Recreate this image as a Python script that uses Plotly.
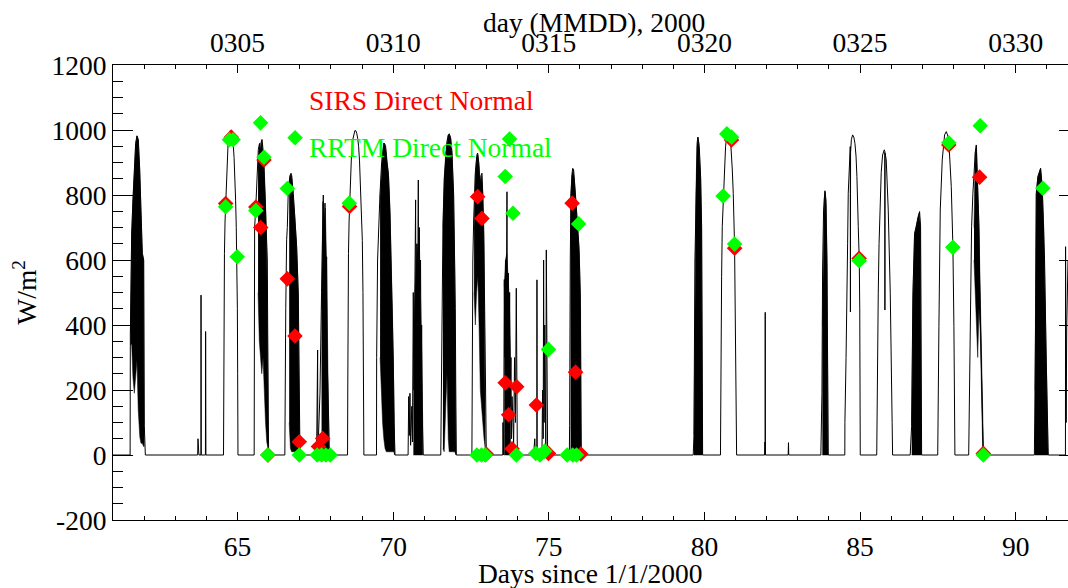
import plotly.graph_objects as go

# ---------------- observed direct normal irradiance (black line), day-by-day segments -------------
seg61_t = [61.0, 61.55, 61.557, 61.60, 61.642, 61.685, 61.728, 61.771, 61.814, 61.857, 61.899, 61.942, 61.985, 62.006, 62.039]
seg61_v = [0, 0, 370, 680, 785, 877, 959, 982, 970, 877, 723, 621, 600, 90, 0]
seg63_t = [63.72, 63.73, 63.74, 63.75, 63.76, 63.825, 63.828, 63.835, 63.97, 63.975, 63.98, 63.985]
seg63_v = [0, 50, 5, 30, 0, 0, 492, 0, 0, 380, 340, 0]
seg64_t = [64.55, 64.557, 64.565, 64.58, 64.60, 64.62, 64.645, 64.67, 64.70, 64.735, 64.77, 64.80, 64.83, 64.86, 64.89, 64.915, 64.94, 64.96, 64.98, 64.995, 65.005, 65.015]
seg64_v = [0, 200, 450, 620, 720, 770, 860, 920, 965, 988, 998, 995, 982, 960, 915, 860, 782, 700, 610, 450, 250, 0]
seg65_t = [65.535, 65.54, 65.55, 65.583, 65.636, 65.668, 65.711, 65.74, 65.754, 65.786, 65.81, 65.839, 65.882, 65.925, 65.957, 65.975, 65.99, 66.0]
seg65_v = [0, 400, 700, 754, 908, 940, 959, 900, 960, 971, 950, 908, 805, 640, 600, 300, 30, 0]
seg66_t = [66.52, 66.525, 66.55, 66.578, 66.60, 66.632, 66.685, 66.72, 66.739, 66.792, 66.846, 66.90, 66.953, 66.98, 67.007]
seg66_v = [0, 200, 450, 662, 700, 816, 860, 867, 860, 805, 734, 641, 498, 190, 0]
seg67_t = [67.54, 67.574, 67.58, 67.617, 67.649, 67.70, 67.756, 67.77, 67.79, 67.81, 67.83, 67.863, 67.88, 67.917, 67.935, 67.95]
seg67_v = [0, 323, 0, 100, 190, 500, 800, 400, 700, 775, 500, 610, 300, 190, 80, 0]
seg68_t = [68.535, 68.542, 68.55, 68.565, 68.585, 68.60, 68.63, 68.66, 68.69, 68.73, 68.77, 68.80, 68.83, 68.86, 68.89, 68.92, 68.95, 68.98, 69.01, 69.03, 69.045, 69.06]
seg68_v = [0, 200, 450, 620, 720, 770, 860, 920, 965, 988, 998, 998, 990, 975, 950, 905, 840, 760, 660, 500, 250, 0]
seg69_t = [69.465, 69.47, 69.50, 69.533, 69.576, 69.63, 69.705, 69.735, 69.758, 69.80, 69.844, 69.897, 69.951, 70.004, 70.03, 70.058]
seg69_v = [0, 300, 600, 700, 800, 900, 960, 955, 950, 900, 870, 747, 548, 292, 100, 0]
seg70_t = [70.48, 70.50, 70.52, 70.54, 70.56, 70.60, 70.62, 70.647, 70.67, 70.70, 70.722, 70.735, 70.76, 70.785, 70.808, 70.82, 70.84, 70.861, 70.88, 70.90, 70.915, 70.94, 70.968]
seg70_v = [0, 180, 60, 190, 30, 150, 40, 500, 200, 600, 785, 300, 650, 400, 846, 350, 700, 500, 600, 200, 400, 100, 0]
seg71_t = [71.53, 71.537, 71.56, 71.60, 71.644, 71.687, 71.729, 71.772, 71.804, 71.847, 71.89, 71.944, 71.997, 72.015, 72.029]
seg71_v = [0, 100, 400, 703, 850, 930, 965, 985, 988, 975, 930, 800, 450, 150, 0]
seg72_t = [72.53, 72.535, 72.56, 72.586, 72.64, 72.693, 72.714, 72.75, 72.79, 72.821, 72.854, 72.88, 72.907, 72.94, 72.96, 72.98, 72.993]
seg72_v = [0, 300, 600, 720, 870, 925, 929, 900, 820, 860, 867, 800, 700, 450, 200, 50, 0]
seg73_t = [73.52, 73.528, 73.55, 73.571, 73.59, 73.614, 73.63, 73.657, 73.67, 73.699, 73.72, 73.742, 73.76, 73.785, 73.80, 73.82, 73.849, 73.87, 73.90, 73.93, 73.956, 73.97, 73.99]
seg73_v = [0, 100, 0, 540, 300, 600, 350, 810, 400, 560, 200, 500, 150, 300, 50, 180, 100, 30, 300, 100, 513, 50, 0]
seg74_t = [74.51, 74.55, 74.57, 74.618, 74.62, 74.625, 74.78, 74.80, 74.82, 74.834, 74.85, 74.87, 74.888, 74.905, 74.92, 74.93, 74.95, 74.963]
seg74_v = [0, 50, 0, 0, 539, 0, 0, 200, 50, 600, 100, 400, 200, 0, 631, 300, 100, 0]
seg75_t = [75.66, 75.669, 75.69, 75.712, 75.755, 75.77, 75.798, 75.841, 75.884, 75.926, 75.969, 76.012, 76.03, 76.044]
seg75_v = [0, 90, 600, 805, 872, 882, 877, 826, 764, 703, 641, 498, 200, 0]
seg79_t = [79.64, 79.663, 79.695, 79.727, 79.77, 79.792, 79.834, 79.877, 79.909, 79.925, 79.942]
seg79_v = [0, 60, 600, 805, 964, 978, 949, 857, 703, 400, 0]
seg80_t = [80.515, 80.52, 80.535, 80.552, 80.573, 80.605, 80.627, 80.68, 80.734, 80.76, 80.787, 80.841, 80.894, 80.926, 80.969, 81.001, 81.02, 81.034]
seg80_v = [0, 150, 400, 550, 703, 797, 860, 950, 993, 995, 990, 965, 880, 805, 641, 395, 100, 0]
seg81_t = [81.935, 81.945, 81.95, 81.953, 81.958, 82.69, 82.70, 82.71]
seg81_v = [0, 40, 0, 439, 0, 0, 38, 0]
seg83_t = [83.74, 83.775, 83.796, 83.828, 83.871, 83.903, 83.935, 83.96, 83.978]
seg83_v = [0, 190, 569, 754, 813, 785, 600, 300, 0]
seg84_t = [84.51, 84.513, 84.55, 84.578, 84.60, 84.62, 84.65, 84.685, 84.69, 84.695, 84.72, 84.76, 84.80, 84.835, 84.87, 84.899, 84.942, 84.974, 84.99, 85.0, 85.006]
seg84_v = [0, 100, 300, 436, 650, 805, 900, 949, 440, 930, 970, 985, 978, 959, 920, 857, 703, 600, 450, 200, 0]
seg85_t = [85.535, 85.541, 85.56, 85.584, 85.61, 85.648, 85.68, 85.723, 85.777, 85.795, 85.798, 85.802, 85.841, 85.905, 85.97, 86.012, 86.03, 86.045]
seg85_v = [0, 100, 300, 498, 650, 805, 870, 923, 939, 935, 446, 930, 908, 754, 498, 292, 100, 0]
seg86_t = [86.61, 86.655, 86.698, 86.752, 86.805, 86.859, 86.912, 86.944, 86.96, 86.977]
seg86_v = [0, 87, 498, 682, 703, 734, 749, 703, 300, 0]
seg87_t = [87.495, 87.501, 87.533, 87.576, 87.64, 87.715, 87.769, 87.81, 87.855, 87.93, 87.983, 88.015, 88.035, 88.047]
seg87_v = [0, 100, 395, 754, 908, 985, 995, 985, 959, 826, 641, 395, 150, 0]
seg88_t = [88.49, 88.497, 88.54, 88.583, 88.625, 88.668, 88.70, 88.733, 88.75, 88.775, 88.797, 88.82, 88.84, 88.893, 88.947, 88.979]
seg88_v = [0, 50, 395, 703, 805, 908, 930, 954, 900, 850, 805, 700, 549, 292, 36, 0]
seg90_t = [90.60, 90.638, 90.66, 90.713, 90.799, 90.852, 90.927, 90.981, 91.02, 91.045]
seg90_v = [0, 395, 805, 857, 882, 826, 600, 292, 80, 0]
seg91_t = [91.598, 91.602, 91.606, 91.62, 91.64, 91.68]
seg91_v = [0, 641, 300, 100, 400, 600]

# ---------------- dense cloud-modulated regions (upper / lower envelopes) ----------------
blob61_t = [61.56, 61.60, 61.64, 61.685, 61.73, 61.77, 61.81, 61.86, 61.90, 61.94, 61.985, 62.0]
blob61_top = [370, 680, 785, 877, 959, 982, 970, 877, 723, 621, 600, 90]
blob61_bot = [340, 340, 240, 190, 230, 290, 140, 56, 36, 36, 26, 26]
blob65_t = [65.66, 65.70, 65.74, 65.78, 65.82, 65.86, 65.90, 65.94, 65.98]
blob65_top = [900, 955, 940, 968, 930, 880, 770, 620, 200]
blob65_bot = [500, 350, 300, 250, 300, 200, 100, 40, 20]
blob66_t = [66.66, 66.70, 66.74, 66.79, 66.84, 66.90, 66.95, 66.98, 67.0]
blob66_top = [840, 862, 860, 805, 734, 641, 498, 190, 0]
blob66_bot = [100, 20, 10, 10, 10, 10, 10, 10, 0]
blob67_t = [67.70, 67.74, 67.78, 67.82, 67.86, 67.90, 67.94]
blob67_top = [450, 780, 720, 760, 600, 250, 60]
blob67_bot = [20, 10, 10, 10, 10, 10, 0]
blob69_t = [69.58, 69.62, 69.66, 69.70, 69.74, 69.78, 69.82, 69.86, 69.90, 69.94, 69.98, 70.02, 70.05]
blob69_top = [790, 880, 930, 960, 955, 930, 890, 850, 747, 600, 420, 200, 20]
blob69_bot = [300, 200, 100, 50, 20, 10, 10, 10, 10, 10, 10, 10, 0]
blob70_t = [70.65, 70.70, 70.75, 70.80, 70.85, 70.90, 70.95]
blob70_top = [300, 500, 600, 650, 600, 400, 100]
blob70_bot = [0, 0, 0, 0, 0, 0, 0]
blob71_t = [71.60, 71.64, 71.69, 71.73, 71.77, 71.80, 71.85, 71.89, 71.94, 71.98, 72.02]
blob71_top = [700, 850, 930, 965, 985, 988, 975, 930, 800, 550, 80]
blob71_bot = [20, 10, 150, 250, 50, 10, 10, 10, 10, 10, 0]
blob72_t = [72.60, 72.64, 72.68, 72.72, 72.76, 72.80, 72.84, 72.88, 72.92, 72.96]
blob72_top = [700, 860, 915, 925, 890, 830, 860, 800, 650, 200]
blob72_bot = [500, 400, 500, 550, 400, 200, 150, 100, 50, 20]
blob73_t = [73.57, 73.61, 73.65, 73.69, 73.73, 73.77]
blob73_top = [520, 600, 620, 560, 480, 300]
blob73_bot = [0, 0, 0, 0, 0, 0]
blob75_t = [75.70, 75.74, 75.78, 75.82, 75.86, 75.90, 75.94, 75.98, 76.02, 76.04]
blob75_top = [780, 860, 880, 850, 800, 740, 690, 620, 450, 50]
blob75_bot = [0, 0, 0, 0, 0, 0, 0, 0, 0, 0]
blob79_t = [79.665, 79.695, 79.727, 79.76, 79.79, 79.82, 79.85, 79.88, 79.91, 79.935]
blob79_top = [60, 600, 805, 950, 978, 960, 920, 850, 700, 300]
blob79_bot = [0, 0, 0, 0, 0, 0, 0, 0, 0, 0]
blob83_t = [83.79, 83.82, 83.85, 83.88, 83.91, 83.94, 83.97]
blob83_top = [400, 700, 790, 810, 770, 580, 100]
blob83_bot = [0, 0, 0, 0, 0, 0, 0]
blob86_t = [86.66, 86.70, 86.75, 86.80, 86.85, 86.90, 86.94, 86.97]
blob86_top = [100, 490, 680, 700, 730, 745, 700, 100]
blob86_bot = [0, 0, 0, 0, 0, 0, 0, 0]
blob88_t = [88.66, 88.70, 88.74, 88.78, 88.82, 88.86, 88.90, 88.94, 88.97]
blob88_top = [700, 930, 950, 850, 700, 500, 300, 100, 20]
blob88_bot = [600, 500, 400, 300, 450, 380, 200, 20, 0]
blob90_t = [90.62, 90.66, 90.71, 90.76, 90.80, 90.85, 90.90, 90.95, 91.0, 91.04]
blob90_top = [200, 800, 855, 870, 882, 826, 700, 450, 200, 20]
blob90_bot = [0, 0, 0, 0, 0, 0, 0, 0, 0, 0]

# ---------------- model / measurement comparison points ----------------
sirs_t = [64.62, 64.80, 65.59, 65.745, 65.85, 65.98, 66.60, 66.846, 66.985, 67.60, 67.735, 68.60,
          72.714, 72.854, 72.99, 73.60, 73.71, 73.82, 73.97, 74.60, 74.99, 75.75, 75.86, 76.03,
          80.87, 80.97, 84.97, 87.85, 88.84, 88.96]
sirs_v = [774, 978, 763, 700, 908, 0, 542, 366, 41, 26, 51, 765,
          795, 728, 3, 222, 124, 19, 210, 154, 5, 775, 255, 3,
          969, 636, 605, 954, 855, 5]
rrtm_t = [64.62, 64.74, 64.86, 64.99, 65.59, 65.74, 65.85, 65.97, 66.60, 66.85, 66.985,
          67.56, 67.70, 67.84, 67.98, 68.59, 72.69, 72.84, 72.96, 73.60, 73.74, 73.85, 73.96,
          74.58, 74.72, 74.87, 74.99, 75.59, 75.77, 75.89, 75.96,
          80.60, 80.72, 80.87, 80.97, 84.97, 87.85, 87.98, 88.86, 88.96, 90.87]
rrtm_v = [764, 970, 970, 610, 752, 1022, 916, 0, 820, 976, 0,
          0, 0, 0, 0, 775, 0, 0, 0, 857, 972, 744, 0,
          5, 0, 12, 325, 0, 0, 0, 711,
          797, 988, 978, 649, 598, 961, 639, 1013, 0, 821]

# ---------------- axes ----------------
x_range = [61.0, 91.68]
y_range = [-200, 1200]
bottom_ticks = [65, 70, 75, 80, 85, 90]
bottom_labels = ["65", "70", "75", "80", "85", "90"]
top_labels = ["0305", "0310", "0315", "0320", "0325", "0330"]
y_ticks = [-200, 0, 200, 400, 600, 800, 1000, 1200]
y_labels = ["-200", "0", "200", "400", "600", "800", "1000", "1200"]

segments = [(seg61_t, seg61_v), (seg63_t, seg63_v), (seg64_t, seg64_v), (seg65_t, seg65_v),
            (seg66_t, seg66_v), (seg67_t, seg67_v), (seg68_t, seg68_v), (seg69_t, seg69_v),
            (seg70_t, seg70_v), (seg71_t, seg71_v), (seg72_t, seg72_v), (seg73_t, seg73_v),
            (seg74_t, seg74_v), (seg75_t, seg75_v), (seg79_t, seg79_v), (seg80_t, seg80_v),
            (seg81_t, seg81_v), (seg83_t, seg83_v), (seg84_t, seg84_v), (seg85_t, seg85_v),
            (seg86_t, seg86_v), (seg87_t, seg87_v), (seg88_t, seg88_v), (seg90_t, seg90_v),
            (seg91_t, seg91_v)]
blobs = [(blob61_t, blob61_top, blob61_bot), (blob65_t, blob65_top, blob65_bot),
         (blob66_t, blob66_top, blob66_bot), (blob67_t, blob67_top, blob67_bot),
         (blob69_t, blob69_top, blob69_bot), (blob70_t, blob70_top, blob70_bot),
         (blob71_t, blob71_top, blob71_bot), (blob72_t, blob72_top, blob72_bot),
         (blob73_t, blob73_top, blob73_bot), (blob75_t, blob75_top, blob75_bot),
         (blob79_t, blob79_top, blob79_bot), (blob83_t, blob83_top, blob83_bot),
         (blob86_t, blob86_top, blob86_bot), (blob88_t, blob88_top, blob88_bot),
         (blob90_t, blob90_top, blob90_bot)]

line_t, line_v = [], []
for t, v in segments:
    line_t += t
    line_v += v

FONT = "Liberation Serif"
FS = 27.5
fig = go.Figure()

for t, top, bot in blobs:
    fig.add_trace(go.Scatter(x=t + t[::-1], y=top + bot[::-1], mode="lines", fill="toself",
                             fillcolor="black", line=dict(color="black", width=0.5),
                             hoverinfo="skip"))

fig.add_trace(go.Scatter(x=line_t, y=line_v, mode="lines", line=dict(color="black", width=1)))

fig.add_trace(go.Scatter(x=sirs_t, y=sirs_v, mode="markers",
                         marker=dict(symbol="diamond", size=12, color="#FF0000", line=dict(width=0))))
fig.add_trace(go.Scatter(x=rrtm_t, y=rrtm_v, mode="markers",
                         marker=dict(symbol="diamond", size=12, color="#00FF00", line=dict(width=0))))

# invisible trace to activate the top / right axes
fig.add_trace(go.Scatter(x=x_range, y=y_range, xaxis="x2", yaxis="y2", mode="markers",
                         marker=dict(opacity=0), hoverinfo="skip"))

fig.add_annotation(x=67.23, y=1092, xref="x", yref="y", text="SIRS Direct Normal",
                   showarrow=False, xanchor="left", yanchor="middle",
                   font=dict(family=FONT, size=FS, color="#FF0000"))
fig.add_annotation(x=67.23, y=945, xref="x", yref="y", text="RRTM Direct Normal",
                   showarrow=False, xanchor="left", yanchor="middle",
                   font=dict(family=FONT, size=FS, color="#00FF00"))

# axis titles
fig.add_annotation(x=0.5, y=-0.118, xref="paper", yref="paper", text="Days since 1/1/2000",
                   showarrow=False, xanchor="center", yanchor="middle",
                   font=dict(family=FONT, size=FS, color="black"))
fig.add_annotation(x=0.504, y=1.094, xref="paper", yref="paper", text="day (MMDD), 2000",
                   showarrow=False, xanchor="center", yanchor="middle",
                   font=dict(family=FONT, size=FS, color="black"))
fig.add_annotation(x=-0.092, y=0.5, xref="paper", yref="paper", text="W/m<sup>2</sup>",
                   showarrow=False, xanchor="center", yanchor="middle", textangle=-90,
                   font=dict(family=FONT, size=FS, color="black"))

fig.update_layout(
    width=1068, height=588,
    margin=dict(l=113, r=0, t=65, b=68, autoexpand=False),
    paper_bgcolor="white", plot_bgcolor="white",
    showlegend=False,
    font=dict(family=FONT, size=FS, color="black"),
    xaxis=dict(range=x_range, showline=True, linecolor="black", linewidth=1, automargin=False,
               showgrid=False, zeroline=False,
               ticks="inside", ticklen=8, tickwidth=1, tickcolor="black",
               tickvals=bottom_ticks, ticktext=bottom_labels, ticklabelstandoff=2,
               minor=dict(ticks="inside", ticklen=4, tick0=61, dtick=1, tickcolor="black", showgrid=False)),
    xaxis2=dict(range=x_range, overlaying="x", side="top", showline=True, linecolor="black",
                linewidth=1, showgrid=False, zeroline=False, automargin=False,
                ticks="inside", ticklen=8, tickwidth=1, tickcolor="black",
                tickvals=bottom_ticks, ticktext=top_labels, ticklabelstandoff=1,
                minor=dict(ticks="inside", ticklen=4, tick0=61, dtick=1, tickcolor="black", showgrid=False)),
    yaxis=dict(range=y_range, showline=True, linecolor="black", linewidth=1, automargin=False,
               showgrid=False, zeroline=False,
               ticks="inside", ticklen=20, tickwidth=1, tickcolor="black",
               tickvals=y_ticks, ticktext=y_labels, ticklabelstandoff=0,
               minor=dict(ticks="inside", ticklen=10, tick0=0, dtick=50, tickcolor="black", showgrid=False)),
    yaxis2=dict(range=y_range, overlaying="y", side="right", showline=False, automargin=False,
                showgrid=False, zeroline=False, showticklabels=False,
                ticks="inside", ticklen=9, tickwidth=1, tickcolor="black", tickvals=y_ticks),
)

fig.write_html("out.html", config={"displayModeBar": False},
               post_script="document.body.style.margin='0';document.body.style.padding='0';document.body.style.overflow='hidden';")
